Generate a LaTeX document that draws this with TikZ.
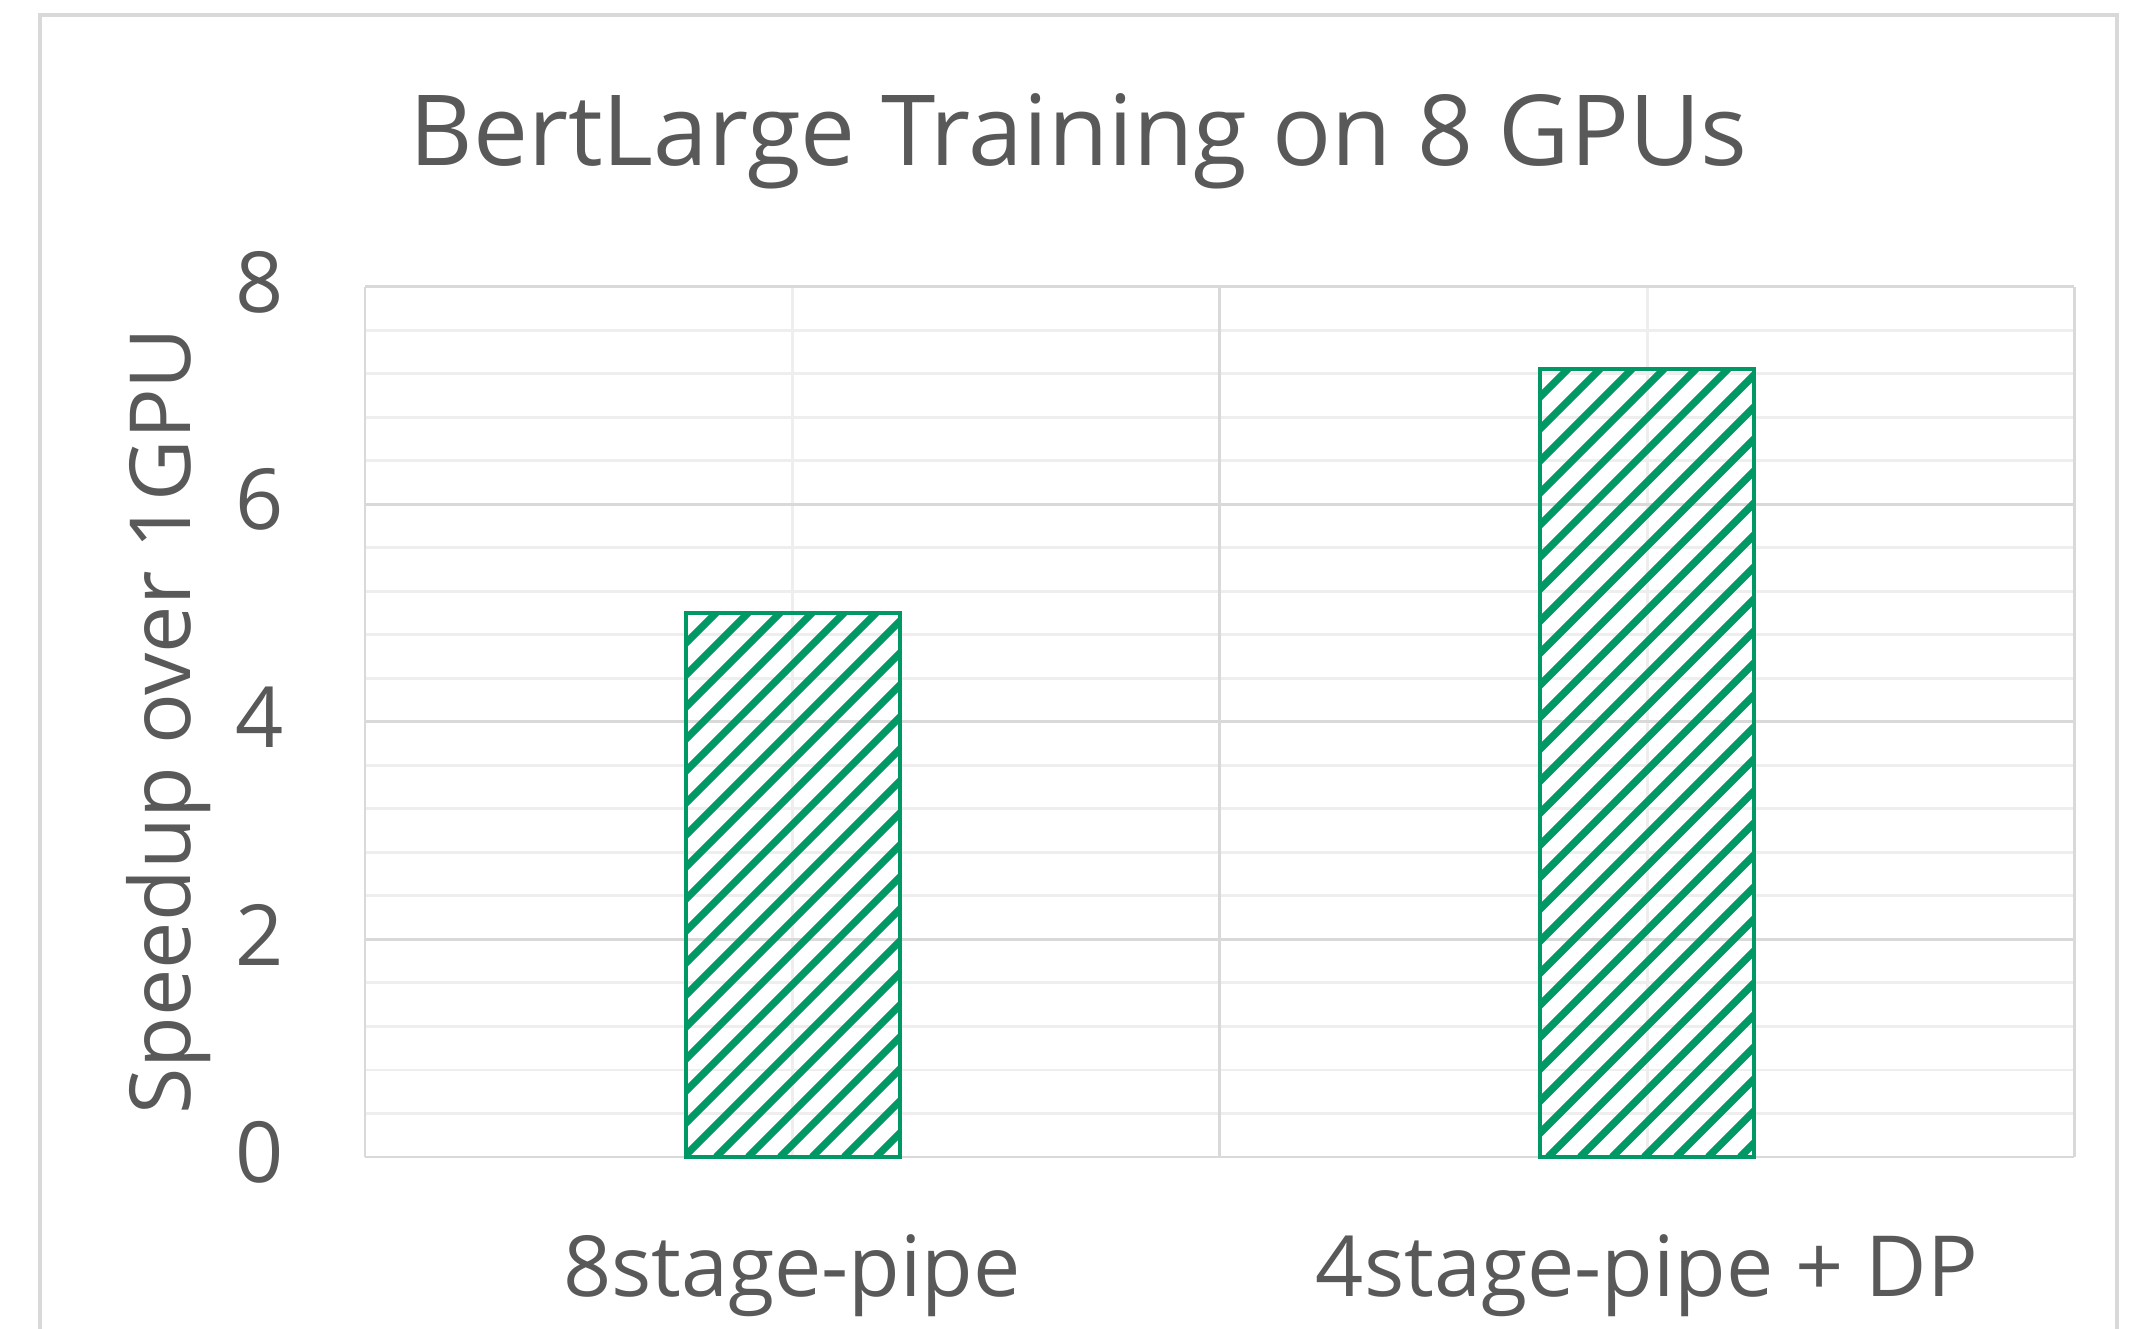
\documentclass[tikz,border=0pt]{standalone}
\usepackage{fontspec}
\setmainfont{Open Sans}
\definecolor{txtgray}{HTML}{595959}
\definecolor{majgrid}{HTML}{D9D9D9}
\definecolor{mingrid}{HTML}{EEEEEE}
\definecolor{bargreen}{HTML}{009966}
\tikzset{
    lbl/.style={text=txtgray, inner sep=0pt, font=\fontsize{24}{28}\selectfont},
    ttl/.style={text=txtgray, inner sep=0pt, font=\fontsize{27.9}{32}\selectfont},
    majorline/.style={majgrid, line width=0.85pt},
    minorline/.style={mingrid, line width=0.85pt},
    hatchline/.style={bargreen, line width=2.1pt},
    barframe/.style={draw=bargreen, line width=1.15pt}
}
\begin{document}
\begin{tikzpicture}
        \useasboundingbox (-3.65,-1.72) rectangle (17.72,11.57);
        \draw[majgrid, line width=1.1pt] (-3.25,-1.8) -- (-3.25,11.42) -- (17.52,11.42) -- (17.52,-1.8);
        \foreach \i in {1,...,19}
        {
            \draw[minorline] (0,{0.435*\i}) -- (17.09,{0.435*\i});
        }
        \draw[minorline] (4.27,0) -- (4.27,8.7);
        \draw[minorline] (12.82,0) -- (12.82,8.7);
        \foreach \v in {0,2,4,6,8}
        {
            \draw[majorline] (0,{1.0875*\v}) -- (17.09,{1.0875*\v});
            \node[lbl] (tick\v) at (-1.05,{1.0875*\v+0.05}) {\v};
        }
        \draw[majorline] (0,0) -- (0,8.7);
        \draw[majorline] (8.545,0) -- (8.545,8.7);
        \draw[majorline] (17.09,0) -- (17.09,8.7);
        \begin{scope}
            \clip (3.21,0) rectangle (5.35,5.4375) (11.75,0) rectangle (13.89,7.884);
            \foreach \i in {0,...,70}
            {
                \draw[hatchline] ({-5.13+0.32*\i},0) -- ++(9,9);
            }
        \end{scope}
        \draw[barframe] (3.21,0) rectangle (5.35,5.4375);
        \draw[barframe] (11.75,0) rectangle (13.89,7.884);
        \node[ttl, anchor=base] (title) at (7.135,9.91) {BertLarge Training on 8 GPUs};
        \node[lbl, anchor=base, rotate=90] (ylabel) at (-1.75,4.36) {Speedup over 1GPU};
        \node[lbl, anchor=base] (cat1) at (4.27,-1.40) {8stage-pipe};
        \node[lbl, anchor=base] (cat2) at (12.82,-1.40) {4stage-pipe + DP};
\end{tikzpicture}
\end{document}
